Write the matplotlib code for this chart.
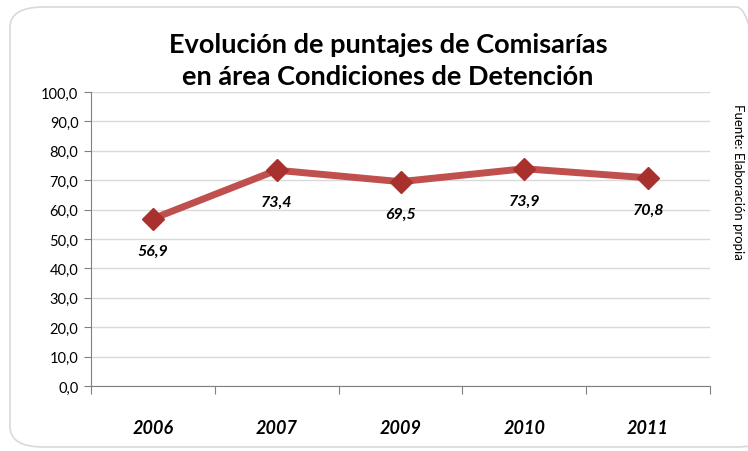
import matplotlib
matplotlib.use("Agg")
import matplotlib.pyplot as plt
from matplotlib.patches import FancyBboxPatch

years = ["2006", "2007", "2009", "2010", "2011"]
scores = [56.9, 73.4, 69.5, 73.9, 70.8]
yticks = [0, 10, 20, 30, 40, 50, 60, 70, 80, 90, 100]
title = "Evolución de puntajes de Comisarías\nen área Condiciones de Detención"
source = "Fuente: Elaboración propia"

plt.rcParams['font.family'] = ['Lato', 'DejaVu Sans']

fig = plt.figure(figsize=(7.48, 4.52), dpi=100)
W, H = 748, 452

# chart border (rounded)
box = FancyBboxPatch((10 / W, 4 / H), 760 / W, 440 / H,
                     boxstyle="round,pad=0,rounding_size=0.045",
                     transform=fig.transFigure, facecolor="none",
                     edgecolor="#d9d9d9", linewidth=1.2, zorder=-1)
fig.patches.append(box)

ax = fig.add_axes([91 / W, (H - 387) / H, (710 - 91) / W, (387 - 93) / H])
ax.set_facecolor("none")
x = list(range(len(years)))
ax.plot(x, scores, color="#C0504D", linewidth=5, marker="D", markersize=11,
        markerfacecolor="#A8312E", markeredgecolor="#A8312E", zorder=3)
for xi, v in zip(x, scores):
    ax.annotate(f"{v:.1f}".replace(".", ","), (xi, v), xytext=(0, -18),
                textcoords="offset points", ha="center", va="top",
                fontsize=11.5, fontweight="bold", fontstyle="italic", color="black")

ax.set_xlim(-0.5, len(years) - 0.5)
ax.set_ylim(0, 100)
ax.set_yticks(yticks)
ax.set_yticklabels([f"{t:.1f}".replace(".", ",") for t in yticks], fontsize=10.5)
ax.set_xticks([i - 0.5 for i in range(len(years) + 1)], minor=False)
ax.set_xticklabels([])
ax.set_xticks(x, minor=True)
ax.set_xticklabels(years, minor=True, fontsize=13, fontweight="bold", fontstyle="italic")
ax.tick_params(axis="x", which="major", length=6, color="#808080")
ax.tick_params(axis="x", which="minor", length=0, pad=24)
ax.tick_params(axis="y", length=5, color="#808080", pad=4)
ax.grid(axis="y", color="#d9d9d9", linewidth=1)
ax.set_axisbelow(True)
for s in ["top", "right"]:
    ax.spines[s].set_visible(False)
ax.spines["left"].set_color("#808080")
ax.spines["bottom"].set_color("#808080")

fig.text(388 / W, 1 - 61 / H, title, ha="center", va="center", fontsize=19.5,
         fontweight="bold", linespacing=1.4)
fig.text(738 / W, 1 - 104 / H, source, ha="center", va="top", rotation=-90,
         fontsize=9.5)

fig.savefig("out.png", dpi=100)
